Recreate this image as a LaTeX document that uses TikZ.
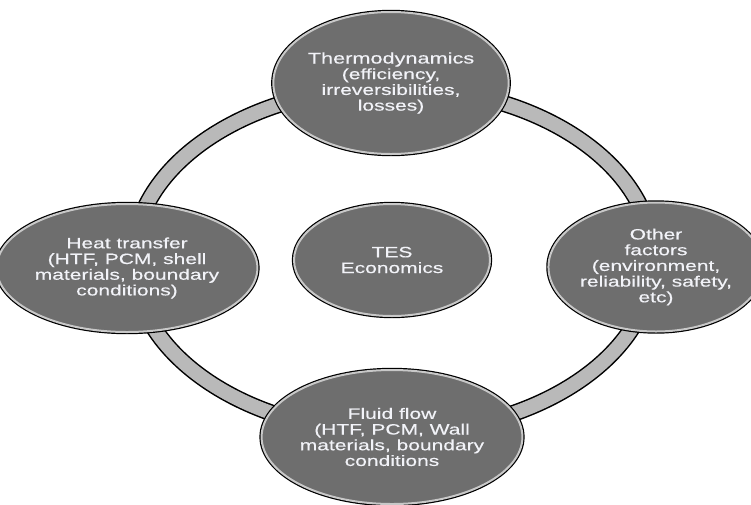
\documentclass[tikz,border=0pt]{standalone}
\usepackage{fontspec}
\usetikzlibrary{shapes.geometric}
\newfontfamily\bubblefont{Liberation Sans}[FakeStretch=1.4, FakeBold=0.4]
\definecolor{bubblegray}{RGB}{110,110,110}
\definecolor{rimgray}{RGB}{200,200,200}
\definecolor{ringgray}{RGB}{185,185,185}
\definecolor{textwhite}{RGB}{242,243,248}

\begin{document}
\begin{tikzpicture}[x=1pt, y=-1pt,
    bubble/.style={ellipse, fill=bubblegray, draw=rimgray, line width=2pt,
      preaction={draw=black, line width=4.4pt},
      text=textwhite, align=center, inner sep=0pt,
      font=\bubblefont\fontsize{15}{15.7}\selectfont},
    ring/.style={draw=black, line width=1.5pt, double=ringgray, double distance=14pt}]
      \useasboundingbox (0, 0) rectangle (751, 504);

      % 輪を描く
      \coordinate (mid) at (393, 260);
      \draw[ring] (mid) ellipse (260 and 173);

      % 円を置く
      \node[bubble, minimum width=196pt, minimum height=112pt] (tes) at (392, 260) {TES\\Economics};
      \node[bubble, minimum width=209pt, minimum height=142pt] (thermo) at (391, 83)
        {{\fontsize{15.5}{15.7}\selectfont Thermodynamics}\\(efficiency,\\irreversibilities,\\losses)};
      \node[bubble, minimum width=224pt, minimum height=128pt] (heat) at (127, 268)
        {Heat transfer\\(HTF, PCM, shell\\materials, boundary\\conditions)};
      \node[bubble, minimum width=203pt, minimum height=129pt] (other) at (656, 267)
        {Other\\factors\\(environment,\\reliability, safety,\\etc)};
      \node[bubble, minimum width=210pt, minimum height=134pt] (fluid) at (392, 437)
        {Fluid flow\\(HTF, PCM, Wall\\materials, boundary\\conditions};
    \end{tikzpicture}
\end{document}
